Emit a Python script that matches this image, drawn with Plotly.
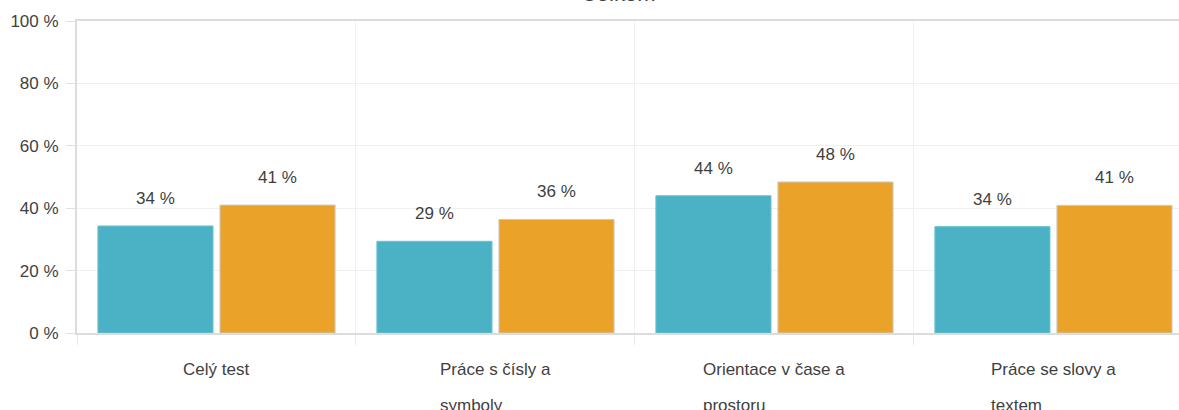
import plotly.graph_objects as go

# ---- data ----
category_lines = [
    ["Celý test"],
    ["Práce s čísly a", "symboly"],
    ["Orientace v čase a", "prostoru"],
    ["Práce se slovy a", "textem"],
]
categories = [" ".join(l) for l in category_lines]
school_values = [34.3, 29.4, 44.0, 34.1]
total_values = [41.0, 36.4, 48.4, 40.9]
series_names = ["Škola", "Celkem"]
y_ticks = [0, 20, 40, 60, 80, 100]
y_tick_text = [f"{v} %" for v in y_ticks]

TEAL = "#4bb2c5"
ORANGE = "#eaa228"
FONT = "Liberation Sans, Arial, sans-serif"
TXT = "#3f3f3f"
FS = 17
BARGAP = 0.125
GROUPGAP = 0.057

fig = go.Figure()
fig.add_trace(go.Bar(x=categories, y=school_values, name=series_names[0],
                     marker=dict(color=TEAL, line=dict(color="#6cc3d3", width=1)),
                     showlegend=False))
fig.add_trace(go.Bar(x=categories, y=total_values, name=series_names[1],
                     marker=dict(color=ORANGE, line=dict(color="#c8c8c8", width=1))))

annotations = []
slot = (1 - BARGAP) / 2
for i, (a, b) in enumerate(zip(school_values, total_values)):
    for off, v in ((-slot / 2, a), (slot / 2, b)):
        annotations.append(dict(x=i + off, y=v, xref="x", yref="y",
                                text=f"{round(v)} %", showarrow=False,
                                yanchor="bottom", yshift=16,
                                font=dict(size=FS, color=TXT, family=FONT)))

# category labels (left aligned block, wide line spacing)
for i, lines in enumerate(category_lines):
    txt = "<br>".join(f"<span style='font-size:{FS}px'>{l}</span>" for l in lines)
    annotations.append(dict(x=i, y=0, xref="x", yref="paper", text=txt,
                            showarrow=False, yanchor="top", yshift=-25,
                            align="left",
                            font=dict(size=28, color=TXT, family=FONT)))

fig.update_layout(
    width=1179, height=410,
    margin=dict(l=77, r=0, t=21, b=77, autoexpand=False),
    paper_bgcolor="white", plot_bgcolor="white",
    barmode="group", bargap=BARGAP, bargroupgap=GROUPGAP,
    font=dict(family=FONT, size=FS, color=TXT),
    showlegend=True,
    legend=dict(orientation="h", x=0.421, xanchor="left", y=1.025, yanchor="bottom",
                font=dict(size=22, color=TXT), bgcolor="rgba(0,0,0,0)"),
    annotations=annotations,
)
fig.update_xaxes(type="category", range=[-0.5, 3.45], tickson="boundaries",
                 showticklabels=False, ticks="outside", ticklen=10, tickcolor="#e8e8e8",
                 showgrid=True, gridcolor="#f0f0f0", gridwidth=1,
                 showline=True, linecolor="#dcdcdc", linewidth=2, mirror=True)
fig.update_yaxes(range=[0, 100], tickvals=y_ticks, ticktext=y_tick_text,
                 ticks="outside", ticklen=9, tickcolor="#e0e0e0",
                 ticklabelstandoff=4,
                 showgrid=True, gridcolor="#f0f0f0", gridwidth=1, zeroline=False,
                 showline=True, linecolor="#dcdcdc", linewidth=2,
                 tickfont=dict(size=FS, color=TXT, family=FONT))

fig.write_html("out.html", config={"displayModeBar": False},
               post_script="document.body.style.margin='0';")
